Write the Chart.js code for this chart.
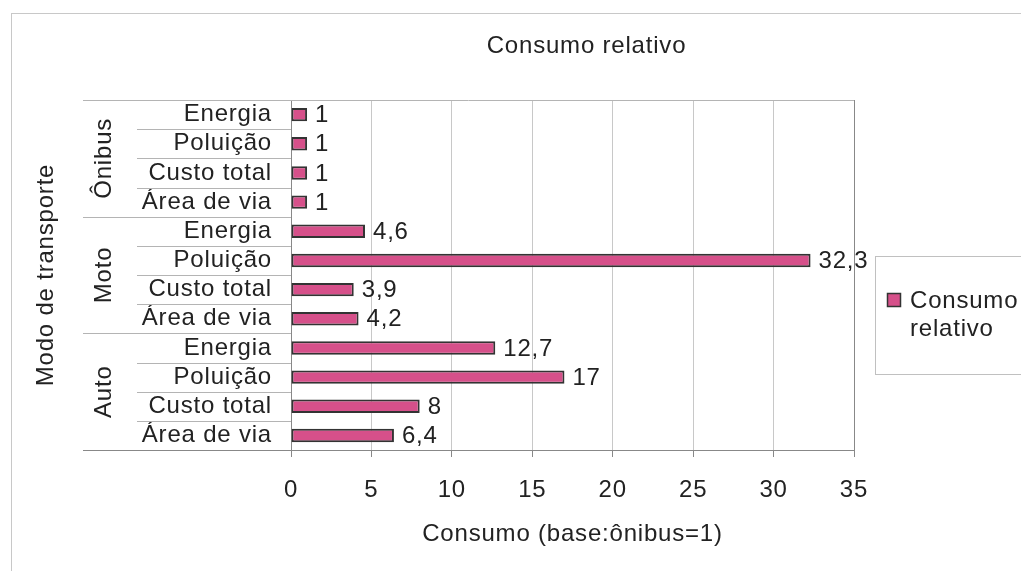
<!DOCTYPE html>
<html>
<head>
<meta charset="utf-8">
<script src="https://cdn.jsdelivr.net/npm/chart.js@4/dist/chart.umd.min.js"></script>
<style>
  body { margin: 0; background: #fff; }
</style>
</head>
<body>
<canvas id="chart" width="1021" height="571"></canvas>
<script>
// data
const groups = ['Ônibus', 'Moto', 'Auto'];
const items = ['Energia', 'Poluição', 'Custo total', 'Área de via'];
const values = [1, 1, 1, 1, 4.6, 32.3, 3.9, 4.2, 12.7, 17, 8, 6.4];
const seriesName = 'Consumo relativo';
const chartTitle = 'Consumo relativo';
const xTitle = 'Consumo (base:ônibus=1)';
const yTitle = 'Modo de transporte';

const labels = [];
groups.forEach(g => items.forEach(it => labels.push(it)));

const barColor = '#d6508a';
const FONT = "'Liberation Sans', Arial, sans-serif";
Chart.defaults.font.family = FONT;
Chart.defaults.font.size = 24;
Chart.defaults.color = '#222';

// draws the bits Excel had that Chart.js doesn't do by itself
const extras = {
    id: 'extras',
    beforeDraw(chart) {
        const ctx = chart.ctx;
        ctx.letterSpacing = '0.8px';
        // outer frame
        ctx.save();
        ctx.strokeStyle = '#c8c8c8';
        ctx.lineWidth = 1;
        ctx.strokeRect(11.5, 13.5, 1100, 700);
        ctx.restore();
    },
    beforeDatasetsDraw(chart) {
        const ctx = chart.ctx;
        const area = chart.chartArea;
        const y = chart.scales.y;
        ctx.save();
        ctx.strokeStyle = '#b4b4b4';
        ctx.lineWidth = 1;
        // row separators in the label area
        for (let i = 1; i < labels.length; i++) {
            const py = Math.round((y.getPixelForValue(i - 1) + y.getPixelForValue(i)) / 2) + 0.5;
            const x0 = (i % items.length === 0) ? 83 : 137;
            ctx.beginPath();
            ctx.moveTo(x0, py);
            ctx.lineTo(area.left, py);
            ctx.stroke();
        }
        // top line and bottom line extension
        ctx.beginPath();
        ctx.moveTo(83, Math.round(area.top) + 0.5);
        ctx.lineTo(area.right, Math.round(area.top) + 0.5);
        ctx.stroke();
        ctx.strokeStyle = '#888';
        ctx.beginPath();
        ctx.moveTo(83, Math.round(area.bottom) + 0.5);
        ctx.lineTo(area.left, Math.round(area.bottom) + 0.5);
        ctx.stroke();
        ctx.restore();
    },
    afterDatasetsDraw(chart) {
        const ctx = chart.ctx;
        const area = chart.chartArea;
        const y = chart.scales.y;
        const meta = chart.getDatasetMeta(0);
        ctx.save();
        ctx.font = '24px ' + FONT;
        ctx.fillStyle = '#222';
        ctx.textBaseline = 'middle';
        ctx.textAlign = 'left';
        // value labels
        meta.data.forEach((bar, i) => {
            const txt = String(values[i]).replace('.', ',');
            ctx.fillText(txt, bar.x + 8, bar.y + 1);
        });
        // group labels, rotated
        groups.forEach((g, gi) => {
            const a = y.getPixelForValue(gi * items.length);
            const b = y.getPixelForValue(gi * items.length + items.length - 1);
            ctx.save();
            ctx.translate(104, (a + b) / 2);
            ctx.rotate(-Math.PI / 2);
            ctx.textAlign = 'center';
            ctx.fillText(g, 0, 0);
            ctx.restore();
        });
        // chart title
        ctx.textAlign = 'center';
        ctx.fillText(chartTitle, (area.left + area.right) / 2 + 14, 46);
        // legend
        ctx.strokeStyle = '#c0c0c0';
        ctx.lineWidth = 1;
        ctx.strokeRect(875.5, 256.5, 200, 118);
        ctx.fillStyle = barColor;
        ctx.fillRect(887, 293, 14, 14);
        ctx.strokeStyle = '#333';
        ctx.lineWidth = 1.5;
        ctx.strokeRect(887.5, 293.5, 13, 13);
        ctx.fillStyle = '#222';
        ctx.textAlign = 'left';
        ctx.fillText('Consumo', 910, 301);
        ctx.fillText('relativo', 910, 329);
        ctx.restore();
    }
};

new Chart(document.getElementById('chart'), {
    type: 'bar',
    data: {
        labels: labels,
        datasets: [{
            label: seriesName,
            data: values,
            backgroundColor: barColor,
            borderColor: '#333',
            borderWidth: 2,
            borderSkipped: false,
            categoryPercentage: 1,
            barPercentage: 0.46
        }]
    },
    options: {
        indexAxis: 'y',
        responsive: false,
        animation: false,
        layout: { padding: { left: 32, right: 167, top: 100, bottom: 22 } },
        plugins: {
            legend: { display: false },
            title: { display: false },
            tooltip: { enabled: false }
        },
        scales: {
            x: {
                min: 0,
                max: 35,
                ticks: { stepSize: 5, padding: 19, color: '#222' },
                grid: {
                    color: c => c.tick && c.tick.value === 35 ? '#888' : '#c8c8c8',
                    tickColor: '#888',
                    tickLength: 7
                },
                border: { color: '#888' },
                title: { display: true, text: xTitle, padding: 0, color: '#222' },
                afterFit(scale) { scale.height = 571 - 22 - 450; }
            },
            y: {
                ticks: { autoSkip: false, padding: 19, color: '#222' },
                grid: { display: false, drawTicks: false },
                border: { color: '#888' },
                title: { display: true, text: yTitle, padding: 0, color: '#222' },
                afterFit(scale) { scale.width = 259; }
            }
        }
    },
    plugins: [extras]
});
</script>
</body>
</html>
